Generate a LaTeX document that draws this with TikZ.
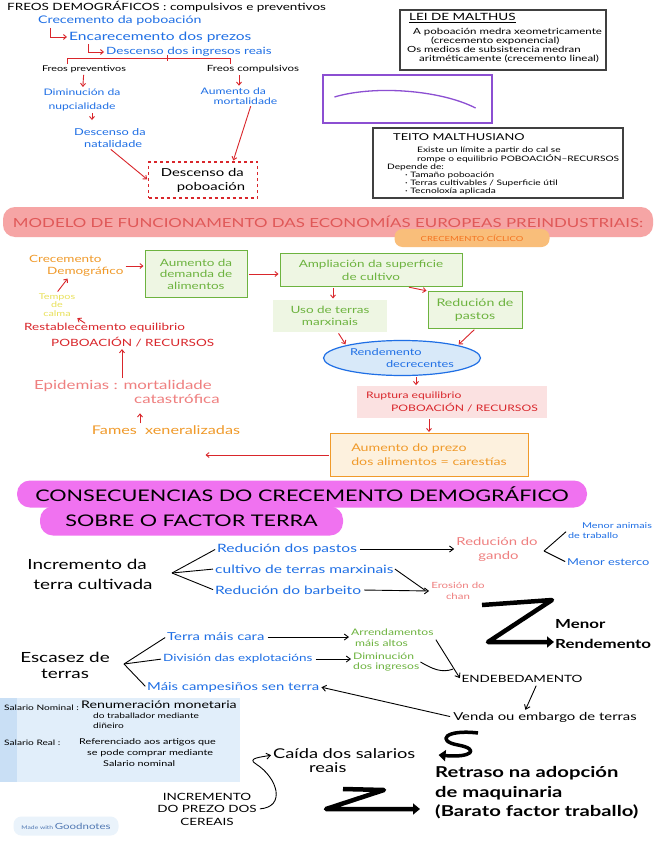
\documentclass[tikz,border=0pt]{standalone}
\usepackage{fontspec}
\setmainfont{Lato}[FakeStretch=1.35]
\usepackage{tikz}
\usetikzlibrary{
    arrows.meta,
    positioning,
    shapes.geometric,
    calc
}
\definecolor{penblue}{HTML}{1F6FE5}
\definecolor{penred}{HTML}{D9262B}
\definecolor{pengreen}{HTML}{6DB33F}
\definecolor{penorange}{HTML}{F09A2A}
\definecolor{penpink}{HTML}{EF7F7F}
\definecolor{penyellow}{HTML}{E9E15A}
\definecolor{penpurple}{HTML}{8C4FD2}
\definecolor{bannerred}{HTML}{F6A5A5}
\definecolor{bannertext}{HTML}{E05858}
\definecolor{bannerorange}{HTML}{F9BE7A}
\definecolor{bannermag}{HTML}{F072F0}
\definecolor{greenfill}{HTML}{EEF6E3}
\definecolor{orangefill}{HTML}{FDF1DE}
\definecolor{pinkfill}{HTML}{FBE1E1}
\definecolor{bluefill}{HTML}{D8E9F9}
\definecolor{salfill}{HTML}{E1EEFA}
\definecolor{salstripe}{HTML}{C9DFF5}
\newcommand{\penfont}[2]{\fontsize{#1}{#2}\selectfont}

\begin{document}
\begin{tikzpicture}[
    x=1pt, y=-1pt,
    hand/.style={inner sep=1pt, align=center},
    bluetext/.style={hand, text=penblue},
    redtext/.style={hand, text=penred},
    blacktext/.style={hand, text=black},
    greentext/.style={hand, text=pengreen},
    orangetext/.style={hand, text=penorange},
    pinktext/.style={hand, text=penpink},
    greenblock/.style={
        rectangle,
        draw=pengreen,
        line width=1pt,
        fill=greenfill,
        text=pengreen,
        align=center,
        inner sep=2pt
    },
    notebox/.style={rectangle, draw=black!75, line width=1.1pt},
    banner/.style={rectangle, rounded corners=12pt, inner sep=0pt},
    redarrow/.style={draw=penred, line width=0.9pt, -{Straight Barb[length=3pt,width=5pt]}, shorten >=1pt, shorten <=1pt},
    redline/.style={draw=penred, line width=0.9pt},
    blackarrow/.style={draw=black, line width=0.9pt, -{Straight Barb[length=4pt,width=6pt]}, shorten >=1pt, shorten <=2pt},
    blackline/.style={draw=black, line width=0.9pt, shorten >=1pt},
    thickstroke/.style={draw=black, line width=4.5pt, line join=round, -{Triangle[length=7pt,width=11pt]}}
]
\fill[white] (0,0) rectangle (656,848);
\useasboundingbox (0,0) rectangle (656,848);

% Freos demograficos
\node[blacktext, anchor=west, font=\penfont{10}{11}] (freos) at (6,7) {FREOS DEMOGRÁFICOS : compulsivos e preventivos};
\node[bluetext, anchor=west, font=\penfont{10.5}{11}] (popgrowth) at (37,21) {Crecemento da poboación};
\node[bluetext, anchor=west, font=\penfont{11.5}{12}] (priceup) at (68,37) {Encarecemento dos prezos};
\node[bluetext, anchor=west, font=\penfont{10}{11}] (incomedown) at (105,52) {Descenso dos ingresos reais};
\draw[redarrow] ($(popgrowth.south west)+(13,0)$) |- (priceup.west);
\draw[redarrow] ($(priceup.south west)+(20,0)$) |- (incomedown.west);

\node[blacktext, font=\penfont{8}{9}] (prevcheck) at (84,69) {Freos preventivos};
\node[blacktext, font=\penfont{8.5}{9}] (posicheck) at (253,69) {Freos compulsivos};
\coordinate (bracketL) at (67,58);
\coordinate (bracketR) at (230,58);
\coordinate (bracketM) at (167,58);
\draw[redline] (prevcheck.north -| bracketL) -- (bracketL) -- (bracketR) -- (posicheck.north -| bracketR);
\draw[redline] ($(bracketM)+(0,-3)$) -- ($(bracketM)+(0,3)$);

\node[bluetext, font=\penfont{9}{13.5}] (nuptial) at (82,100) {Diminución da\\nupcialidade};
\node[bluetext, align=left, font=\penfont{9}{9.5}] (mortal) at (239,96) {Aumento da\\\hspace*{13pt}mortalidade};
\node[bluetext, align=left, font=\penfont{9.5}{12}] (natal) at (110,138) {Descenso da\\\hspace*{10pt}natalidade};
\node[rectangle, draw=penred, dashed, line width=1.1pt, text=black, align=left,
      font=\penfont{11}{14}, minimum width=109pt, minimum height=36pt] (popdrop) at (203,180) {Descenso da\\\hspace*{16pt}poboación};

\draw[redarrow] (prevcheck) -- (nuptial);
\draw[redarrow] (posicheck.south -| mortal.north) -- (mortal.north);
\draw[redarrow] ([xshift=10pt]nuptial.south) -- ++(0,9);
\draw[redarrow] (natal.south) -- (popdrop.west);
\draw[redarrow] ([xshift=12pt]mortal.south) -- ([xshift=30pt]popdrop.north);

% Lei de Malthus
\node[notebox, minimum width=206pt, minimum height=60pt] (malthuslaw) at (503,40) {};
\node[blacktext, anchor=west, font=\penfont{10}{10}] (lawtitle) at (408,18) {\underline{LEI DE MALTHUS}};
\node[blacktext, anchor=north west, align=left, font=\penfont{8.5}{9}] (lawtext) at (406,27)
    {\hspace*{6pt}A poboación medra xeometricamente\\\hspace*{24pt}(crecemento exponencial)\\Os medios de subsistencia medran\\\hspace*{12pt}aritméticamente (crecemento lineal)};

\node[rectangle, draw=penpurple, line width=1.1pt, minimum width=169pt, minimum height=48pt] (graphbox) at (407.5,99) {};
\draw[penpurple, line width=1.3pt] ($(graphbox.west)+(12,-2)$) .. controls +(40,-12) and +(-35,-18) .. ($(graphbox.east)+(-17,9)$);

% Teito malthusiano
\node[notebox, minimum width=250pt, minimum height=70pt] (ceiling) at (498,163) {};
\node[blacktext, anchor=west, font=\penfont{9.5}{10}] (ceilingtitle) at (392,137) {TEITO MALTHUSIANO};
\node[blacktext, anchor=north west, align=left, font=\penfont{7.5}{8}] (ceilingtext) at (386,146)
    {\hspace*{30pt}Existe un límite a partir do cal se\\\hspace*{30pt}rompe o equilibrio POBOACIÓN–RECURSOS\\Depende de:\\\hspace*{18pt}· Tamaño poboación\\\hspace*{18pt}· Terras cultivables / Superficie útil\\\hspace*{18pt}· Tecnoloxía aplicada};

% Modelo preindustrial
\node[banner, fill=bannerred, minimum width=650pt, minimum height=30pt, text=bannertext,
      font=\penfont{12.5}{13}] (modelbanner) at (328,222) {MODELO DE FUNCIONAMENTO DAS ECONOMÍAS EUROPEAS PREINDUSTRIAIS:};
\node[banner, rounded corners=8pt, fill=bannerorange, minimum width=155pt, minimum height=18pt,
      text=penorange!75!red, font=\penfont{7}{8}] (cyclebanner) at (472,238) {CRECEMENTO CÍCLICO};

\node[orangetext, anchor=west, align=left, font=\penfont{10}{12}] (demogrowth) at (28,266) {Crecemento\\\hspace*{18pt}Demográfico};
\node[greenblock, minimum width=102pt, minimum height=47pt, font=\penfont{10}{11.5}] (fooddemand) at (196,274) {Aumento da\\demanda de\\alimentos};
\node[greenblock, minimum width=182pt, minimum height=33pt, font=\penfont{10}{13}] (farmland) at (371,270) {Ampliación da superficie\\de cultivo};
\node[greenblock, draw=none, minimum width=114pt, minimum height=32pt, font=\penfont{10}{11.5}] (marginland) at (330,316) {Uso de terras\\marxinais};
\node[greenblock, minimum width=94pt, minimum height=37pt, font=\penfont{10.5}{13}] (pasturecut) at (475,310) {Redución de\\pastos};
\node[ellipse, draw=penblue, line width=1.2pt, fill=bluefill, text=penblue, align=left, inner sep=1pt,
      minimum width=157pt, minimum height=35pt, font=\penfont{9.5}{12}] (yielddrop) at (402,358) {Rendemento\\\hspace*{36pt}decrecentes};
\node[rectangle, fill=pinkfill, text=penred, align=left, inner sep=3pt, minimum width=190pt,
      minimum height=32pt, font=\penfont{9}{13}] (rupture) at (452,402) {Ruptura equilibrio\\\hspace*{25pt}POBOACIÓN / RECURSOS};
\node[rectangle, draw=penorange, line width=1pt, fill=orangefill, text=penorange, align=left,
      minimum width=198pt, minimum height=43pt, font=\penfont{10.5}{14}] (pricefood) at (429,455) {Aumento do prezo\\dos alimentos = carestías};
\node[orangetext, font=\penfont{12}{12}] (famine) at (166,430) {Fames \ xeneralizadas};
\node[pinktext, anchor=west, align=left, font=\penfont{12.5}{14}] (epidemic) at (33,392) {Epidemias : mortalidade\\\hspace*{100pt}catastrófica};
\node[redtext, anchor=west, align=left, font=\penfont{10}{16}] (restore) at (23,335) {Restablecemento equilibrio\\\hspace*{27pt}POBOACIÓN / RECURSOS};
\node[hand, text=penyellow, font=\penfont{8}{8.5}] (calm) at (57,305) {Tempos\\de\\calma};

% Cycle arrows
\coordinate (upline) at (122,0);
\draw[redarrow] (demogrowth.east) -- (demogrowth.east -| fooddemand.west);
\draw[redarrow] (fooddemand.east) -- (fooddemand.east -| farmland.west);
\draw[redarrow] ([xshift=-38pt]farmland.south) -- ([xshift=3pt]marginland.north);
\draw[redarrow] ([xshift=37pt]farmland.south) -- (pasturecut.north west);
\draw[redarrow] ([xshift=8pt]marginland.south) -- (yielddrop.north west);
\draw[redarrow] (pasturecut.south) -- (yielddrop.north east);
\draw[redarrow] ([xshift=14pt]yielddrop.south) -- ++(0,10);
\draw[redarrow] (rupture.south -| pricefood.north) -- (pricefood.north);
\draw[redarrow] (pricefood.west) -- ++(-125,0);
\draw[redarrow] ([xshift=-26pt]famine.north) -- ++(0,-12);
\draw[redarrow] (epidemic.north -| upline) -- (restore.south -| upline);
\draw[redarrow] ($(restore.north west)+(63,2)$) -- (calm.south east);
\draw[redarrow] (calm.north) -- ($(demogrowth.south)+(-8,0)$);

% Consecuencias sobre o factor terra
\node[banner, rounded corners=13pt, fill=bannermag, minimum width=570pt, minimum height=27pt,
      font=\penfont{16}{17}] (consbanner) at (302,494) {CONSECUENCIAS DO CRECEMENTO DEMOGRÁFICO};
\node[banner, rounded corners=13pt, fill=bannermag, minimum width=303pt, minimum height=29pt,
      font=\penfont{16}{17}] (terrabanner) at (191.5,521) {SOBRE O FACTOR TERRA};

\node[blacktext, align=left, font=\penfont{14}{20}] (moreland) at (90,574) {Incremento da\\\hspace*{6pt}terra cultivada};
\coordinate (forkland) at (172,573);
\node[bluetext, anchor=west, font=\penfont{11.5}{12}] (pastcut) at (216,549) {Redución dos pastos};
\node[bluetext, anchor=west, font=\penfont{11.5}{12}] (margcult) at (214,569) {cultivo de terras marxinais};
\node[bluetext, anchor=west, font=\penfont{11.5}{12}] (fallowcut) at (214,590) {Redución do barbeito};
\draw[blackline] (forkland) -- (pastcut.west);
\draw[blackline] (forkland) -- (margcult.west);
\draw[blackline] (forkland) -- (fallowcut.west);

\node[pinktext, align=left, font=\penfont{11}{14}] (herdcut) at (497,549) {Redución do\\\hspace*{22pt}gando};
\draw[blackarrow] (pastcut.east) -- (pastcut.east -| herdcut.west);
\coordinate (forkherd) at (544,551);
\node[bluetext, align=left, font=\penfont{8}{10}] (draughtless) at (610,531) {\hspace*{14pt}Menor animais\\de traballo};
\node[bluetext, anchor=west, font=\penfont{9.5}{10}] (dungless) at (566,562) {Menor esterco};
\draw[blackline] (forkherd) -- (draughtless.west);
\draw[blackline] (forkherd) -- (dungless.west);

\node[pinktext, font=\penfont{8.5}{11}] (erosion) at (458,591) {Erosión do\\chan};
\draw[blackarrow] (fallowcut.east) -- (erosion.west);
\draw[blackline] (margcult.east) -- ($(erosion.west)+(-4,0)$);

\coordinate (zTopL) at (482,605);
\coordinate (zTopR) at (552,600);
\coordinate (zLow) at (488,642);
\node[blacktext, anchor=west, align=left, font=\bfseries\penfont{12.5}{20}] (lowyield) at (554,634) {Menor\\Rendemento};
\draw[thickstroke] (zTopL) -- (zTopR) -- (zLow) -- (zLow -| lowyield.west);

% Escaseza de terras
\node[blacktext, font=\penfont{14}{16}] (landscarce) at (65,665) {Escasez de\\terras};
\coordinate (forkscarce) at (124,664);
\node[bluetext, anchor=west, font=\penfont{11}{12}] (dearland) at (166,637) {Terra máis cara};
\node[bluetext, anchor=west, font=\penfont{10}{12}] (farmsplit) at (162,659) {División das explotacións};
\node[bluetext, anchor=west, font=\penfont{11}{12}] (landless) at (146,687) {Máis campesiños sen terra};
\draw[blackline] (forkscarce) -- (dearland.west);
\draw[blackline] (forkscarce) -- (farmsplit.west);
\draw[blackline] (forkscarce) -- (landless.west);

\node[greentext, anchor=west, align=left, font=\penfont{9}{11}] (highrent) at (350,638) {Arrendamentos\\\hspace*{4pt}máis altos};
\node[greentext, anchor=west, align=left, font=\penfont{9}{10}] (incomeloss) at (352,662) {Diminución\\dos ingresos};
\draw[blackarrow] (dearland.east) -- (dearland.east -| highrent.west);
\draw[blackarrow] (farmsplit.east) -- (farmsplit.east -| incomeloss.west);

\node[blacktext, font=\penfont{10}{11}] (debt) at (522,679) {ENDEBEDAMENTO};
\draw[blackarrow] (highrent.east) -- (debt.west);
\draw[blackline] (incomeloss.east) to[out=-30, in=200] ($(highrent.east)!0.75!(debt.west)$);

\node[blacktext, font=\penfont{11}{12}] (landsale) at (545,717) {Venda ou embargo de terras};
\draw[blackarrow] ([xshift=15pt]debt.south) -- ([xshift=-20pt]landsale.north);
\draw[blackarrow] (landsale.west) -- (landless.east);

% Salarios
\node[rectangle, fill=salfill, minimum width=240pt, minimum height=84pt, inner sep=0pt] (wagebox) at (120,740) {};
\node[rectangle, fill=salstripe, minimum width=17pt, minimum height=84pt, inner sep=0pt] (wagestripe) at (8.5,740) {};
\node[blacktext, anchor=west, font=\penfont{7.5}{9}] (nominallbl) at (3,708) {Salario Nominal :};
\node[blacktext, anchor=north west, align=left, font=\penfont{7.5}{10}] (nominaldef) at (80,700)
    {{\penfont{10.5}{10}Renumeración monetaria}\\\hspace*{12pt}do traballador mediante\\\hspace*{12pt}diñeiro};
\node[blacktext, anchor=west, font=\penfont{7.5}{9}] (reallbl) at (3,743) {Salario Real :};
\node[blacktext, anchor=north west, align=left, font=\penfont{8}{11}] (realdef) at (78,737)
    {Referenciado aos artigos que\\\hspace*{8pt}se pode comprar mediante\\\hspace*{24pt}Salario nominal};

\node[rectangle, rounded corners=8pt, fill=salfill!70, minimum width=105pt, minimum height=19pt,
      font=\penfont{5}{6}, text=penblue!50!gray] (badge) at (66,826) {Made with {\penfont{8.5}{9}Goodnotes}};

\node[blacktext, anchor=west, align=left, font=\penfont{13.5}{14}] (wagefall) at (272,761) {Caída dos salarios\\\hspace*{36pt}reais};
\coordinate (sTop) at (478,733);
\coordinate (sMid) at (458,745);
\draw[thickstroke, line width=3.5pt] (sTop) .. controls (445,729) and (436,741) .. (sMid)
    .. controls (480,749) and (472,758) .. ($(wagefall.east)+(22,-6)$);

\node[blacktext, font=\penfont{10}{12.5}] (cerealprice) at (207,809) {INCREMENTO\\DO PREZO DOS\\CEREAIS};
\draw[blackarrow] (cerealprice.east) .. controls +(28,-2) and +(22,14) .. (256,764)
    .. controls +(-10,-6) and +(-10,2) .. ([yshift=6pt]wagefall.west);

\node[blacktext, anchor=west, align=left, font=\bfseries\penfont{15}{19.5}] (machinedelay) at (434,793)
    {Retraso na adopción\\de maquinaria\\(Barato factor traballo)};
\coordinate (z2TopL) at (343,789);
\coordinate (z2TopR) at (384,790);
\coordinate (z2Low) at (326,809);
\draw[thickstroke] (z2TopL) -- (z2TopR) -- (z2Low) -- ++(94,0);

\end{tikzpicture}
\end{document}
